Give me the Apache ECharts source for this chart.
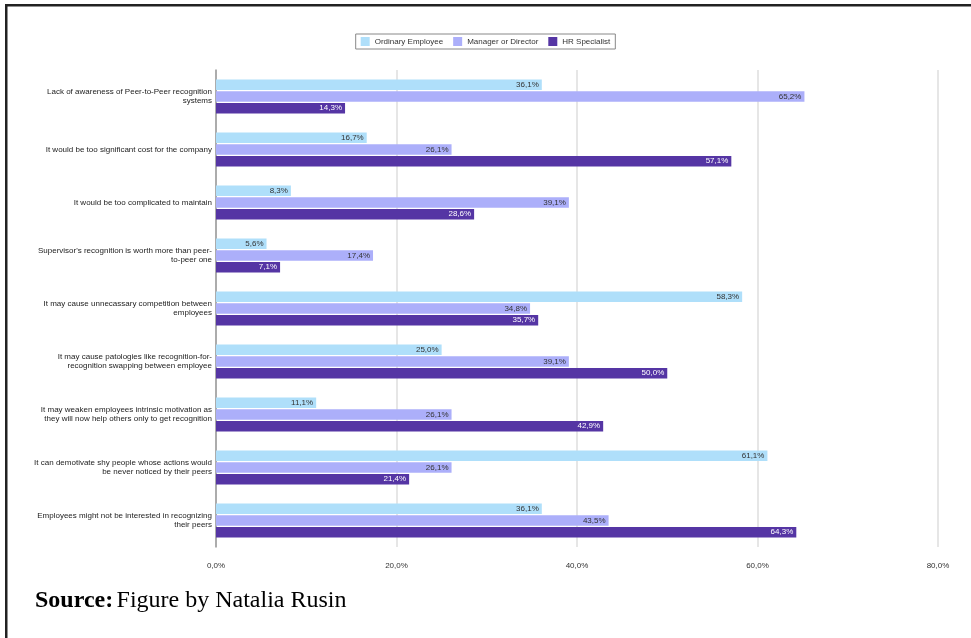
<!DOCTYPE html>
<html>
<head>
<meta charset="utf-8">
<script src="https://cdn.jsdelivr.net/npm/echarts@6/dist/echarts.min.js"></script>
<style>
  html, body { margin: 0; padding: 0; background: #fff; }
  #chart { width: 971px; height: 638px; }
</style>
</head>
<body>
<div id="chart"></div>
<script>
// Reasons against peer-to-peer recognition, by respondent group (% answers)
const categories = [
  'Lack of awareness of Peer-to-Peer recognition\nsystems',
  'It would be too significant cost for the company',
  'It would be too complicated to maintain',
  "Supervisor's recognition is worth more than peer-\nto-peer one",
  'It may cause unnecassary competition between\nemployees',
  'It may cause patologies like recognition-for-\nrecognition swapping between employee',
  'It may weaken employees intrinsic motivation as\nthey will now help others only to get recognition',
  'It can demotivate shy people whose actions would\nbe never noticed by their peers',
  'Employees might not be interested in recognizing\ntheir peers',
]
const ordinary = [36.1, 16.7, 8.3, 5.6, 58.3, 25.0, 11.1, 61.1, 36.1]
const manager = [65.2, 26.1, 39.1, 17.4, 34.8, 39.1, 26.1, 26.1, 43.5]
const hr = [14.3, 57.1, 28.6, 7.1, 35.7, 50.0, 42.9, 21.4, 64.3]

const pct = (v) => v.toFixed(1).replace('.', ',') + '%'

const SERIES = [
  { name: 'Ordinary Employee', data: ordinary, color: '#afdffa', text: '#333' },
  { name: 'Manager or Director', data: manager, color: '#acaffa', text: '#333' },
  { name: 'HR Specialist', data: hr, color: '#5535a4', text: '#fff' },
]

const chart = echarts.init(document.getElementById('chart'))
chart.setOption({
  animation: false,
  textStyle: { fontFamily: '"Liberation Sans", Arial, sans-serif' },
  legend: {
    top: 34, left: 'center',
    borderColor: '#888', borderWidth: 1, padding: [3, 5],
    icon: 'rect', itemWidth: 9, itemHeight: 9, itemGap: 10,
    textStyle: { fontSize: 8, color: '#333' },
    data: SERIES.map((s) => s.name),
  },
  grid: { left: 216, right: 33, top: 70, bottom: 91, containLabel: false },
  xAxis: {
    type: 'value', min: 0, max: 80, interval: 20,
    axisLabel: { fontSize: 8, color: '#333', margin: 15, formatter: (v) => pct(v) },
    splitLine: { lineStyle: { color: '#dedede', width: 1.5 } },
    axisLine: { show: false }, axisTick: { show: false },
  },
  yAxis: {
    type: 'category', inverse: true, data: categories,
    axisLine: { lineStyle: { color: '#999', width: 1.5 } },
    axisTick: { show: false },
    axisLabel: { fontSize: 8, color: '#222', align: 'right', lineHeight: 9, margin: 4 },
  },
  series: SERIES.map((s) => ({
    name: s.name, type: 'bar', data: s.data,
    barWidth: 10.5, barGap: '12%',
    itemStyle: { color: s.color },
    label: {
      show: true, position: 'insideRight', distance: 3,
      fontSize: 8, color: s.text, formatter: (p) => pct(p.value),
    },
  })),
  graphic: [
    { type: 'rect', shape: { x: 5, y: 4, width: 966, height: 2.5 }, style: { fill: '#222' } },
    { type: 'rect', shape: { x: 5, y: 4, width: 2.5, height: 634 }, style: { fill: '#222' } },
    {
      type: 'text', left: 35, top: 589,
      style: {
        rich: {
          b: { fontFamily: '"Liberation Serif", "Times New Roman", serif', fontWeight: 'bold', fontSize: 24, fill: '#000' },
          n: { fontFamily: '"Liberation Serif", "Times New Roman", serif', fontSize: 24, fill: '#000' },
        },
        text: '{b|Source:} {n|Figure by Natalia Rusin}',
      },
    },
  ],
})
</script>
</body>
</html>
